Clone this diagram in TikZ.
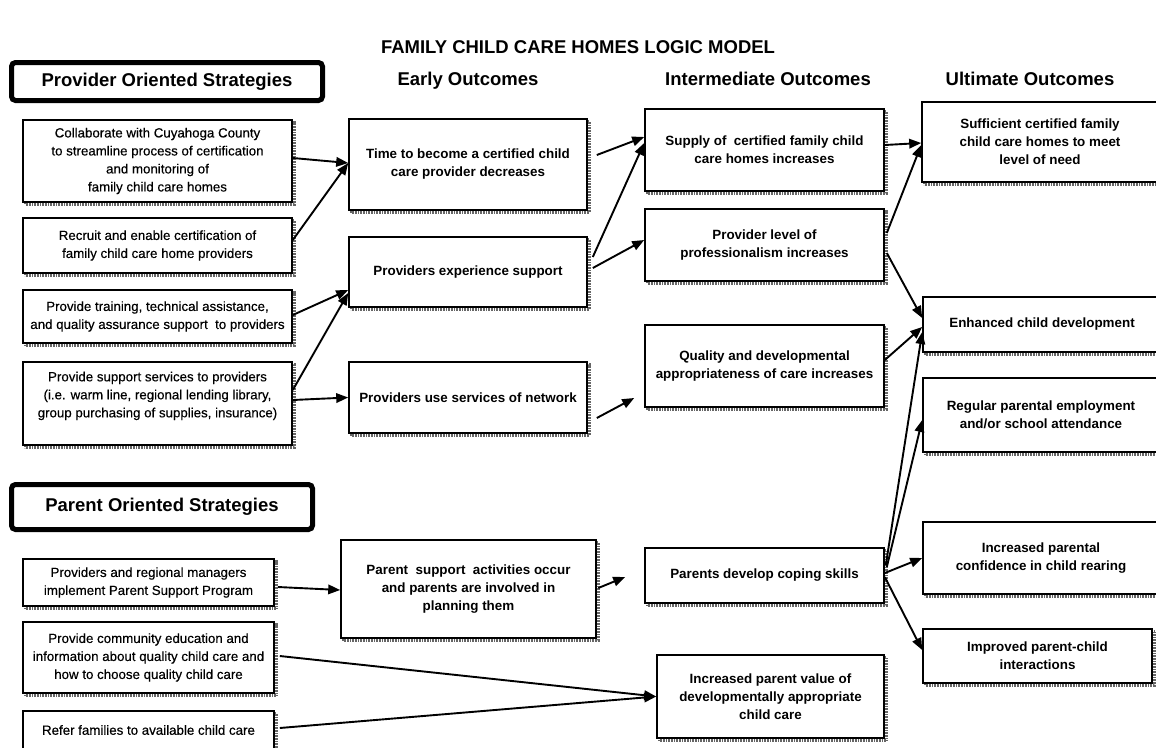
\documentclass[tikz,border=0pt]{standalone}
\usepackage{fontspec}
\setmainfont{Liberation Sans}
\newfontfamily\medfont[FakeBold=0.35]{Liberation Sans}
\usetikzlibrary{arrows.meta,shadows}
\tikzset{
  box/.style={draw, line width=1.6pt, fill=white, align=center, inner sep=2pt,
    general shadow={shadow xshift=2.6pt, shadow yshift=-2.6pt, draw=black!60,
      line width=2.4pt, dash pattern=on 0.8pt off 0.8pt}},
  strat/.style={box, font=\medfont\fontsize{13.3}{18}\selectfont},
  outc/.style={box, font=\bfseries\fontsize{13.4}{18}\selectfont},
  frame/.style={draw, line width=5pt, rounded corners=4pt, fill=white,
    font=\bfseries\fontsize{18.5}{22}\selectfont},
  head/.style={font=\bfseries\fontsize{18.5}{22}\selectfont, anchor=base},
  arr/.style={line width=1.9pt, -{Triangle[length=12pt,width=9.5pt]}},
}
\begin{document}
\begin{tikzpicture}[x=1pt,y=-1pt]
\useasboundingbox (0,0) rectangle (1156,747);
\clip (0,0) rectangle (1156,747);
\fill[white] (0,0) rectangle (1156,747);

% headings
\node[head] (title) at (578,53) {FAMILY CHILD CARE HOMES LOGIC MODEL};
\node[frame, minimum width=311pt, minimum height=38pt] (prov) at (167,81.5) {Provider Oriented Strategies};
\node[head] (early) at (468,85) {Early Outcomes};
\node[head] (inter) at (768,85) {Intermediate Outcomes};
\node[head] (ulti) at (1030,85) {Ultimate Outcomes};
\node[frame, minimum width=301pt, minimum height=45pt] (par) at (162,507) {Parent Oriented Strategies};

% strategies
\node[strat, minimum width=269pt, minimum height=82pt] (S1) at (157.5,161)
  {Collaborate with Cuyahoga County\\to streamline process of certification\\and monitoring of\\family child care homes};
\node[strat, minimum width=269pt, minimum height=55pt] (S2) at (157.5,245.5)
  {Recruit and enable certification of\\family child care home providers};
\node[strat, minimum width=269pt, minimum height=53pt] (S3) at (157.5,316.5)
  {Provide training, technical assistance,\\and quality assurance support\ \ to providers};
\node[strat, minimum width=269pt, minimum height=83pt] (S4) at (157.5,403.5)
  {Provide support services to providers\\(i.e. warm line, regional lending library,\\group purchasing of supplies, insurance)\\\mbox{}};
\node[strat, minimum width=251pt, minimum height=47pt] (P1) at (148.5,582.5)
  {Providers and regional managers\\implement Parent Support Program};
\node[strat, minimum width=251pt, minimum height=71pt] (P2) at (148.5,657.5)
  {Provide community education and\\information about quality child care and\\how to choose quality child care};
\node[strat, minimum width=251pt, minimum height=38pt] (P3) at (148.5,730)
  {Refer families to available child care};

% early outcomes
\node[outc, minimum width=238pt, minimum height=91pt] (E1) at (468,164.5)
  {Time to become a certified child\\care provider decreases};
\node[outc, minimum width=238pt, minimum height=70pt] (E2) at (468,272)
  {Providers experience support};
\node[outc, minimum width=238pt, minimum height=71pt] (E3) at (468,397.5)
  {Providers use services of network};
\node[outc, minimum width=255pt, minimum height=98pt] (E4) at (468.5,589)
  {Parent\ \ support\ \ activities occur\\and parents are involved in\\planning them};

% intermediate outcomes
\node[outc, minimum width=239pt, minimum height=82pt] (I1) at (764.5,150)
  {Supply of\ \ certified family child\\care homes increases};
\node[outc, minimum width=239pt, minimum height=72pt] (I2) at (764.5,245)
  {Provider level of\\professionalism increases};
\node[outc, minimum width=239pt, minimum height=82pt] (I3) at (764.5,366)
  {Quality and developmental\\appropriateness of care increases};
\node[outc, minimum width=239pt, minimum height=55pt] (I4) at (764.5,575.5)
  {Parents develop coping skills};
\node[outc, minimum width=227pt, minimum height=83pt] (I5) at (770.5,696.5)
  {Increased parent value of\\developmentally appropriate\\child care};

% ultimate outcomes
\node[outc, minimum width=236pt, minimum height=80pt] (U1) at (1040,142)
  {Sufficient certified family\\child care homes to meet\\level of need};
\node[outc, minimum width=238pt, minimum height=55pt] (U2) at (1042,324.5)
  {Enhanced child development};
\node[outc, minimum width=236pt, minimum height=74pt] (U3) at (1041,415)
  {Regular parental employment\\and/or school attendance};
\node[outc, minimum width=236pt, minimum height=72pt] (U4) at (1041,558)
  {Increased parental\\confidence in child rearing};
\node[outc, minimum width=229pt, minimum height=54pt] (U5) at (1037.5,656)
  {Improved parent-child\\interactions};

% connectors
\draw[arr] ([yshift=3pt]S1.east) -- ([yshift=1.5pt]E1.west);
\draw[arr] ([yshift=5.5pt]S2.east) -- ([yshift=1.5pt]E1.west);
\draw[arr] ([yshift=1.5pt]S3.east) -- ([yshift=-18pt]E2.west);
\draw[arr] ([yshift=13.5pt]S4.east) -- ([yshift=-21pt]E2.west);
\draw[arr] ([yshift=3.5pt]S4.east) -- (E3.west);
\draw[arr] ([xshift=9pt,yshift=9.5pt]E1.east) -- ([yshift=13pt]I1.west);
\draw[arr] ([xshift=5pt,yshift=15pt]E2.east) -- ([yshift=7pt]I1.west);
\draw[arr] ([xshift=5pt,yshift=4pt]E2.east) -- ([yshift=5pt]I2.west);
\draw[arr] ([xshift=9pt,yshift=-20.5pt]E3.east) -- ([xshift=-10pt,yshift=-32pt]I3.west);
\draw[arr] ([xshift=1.5pt,yshift=1pt]E4.east) -- ([xshift=-19pt,yshift=-1.5pt]I4.west);
\draw[arr] ([xshift=3pt,yshift=-4.5pt]P1.east) -- ([yshift=-1pt]E4.west);
\draw[arr] ([xshift=5pt,yshift=1.5pt]P2.east) -- (I5.west);
\draw[arr] ([xshift=5pt,yshift=2pt]P3.east) -- (I5.west);
\draw[arr] ([yshift=5pt]I1.east) -- ([yshift=-1pt]U1.west);
\draw[arr] ([xshift=2pt,yshift=12pt]I2.east) -- ([yshift=-3pt]U1.west);
\draw[arr] ([xshift=2pt,yshift=-8pt]I2.east) -- ([yshift=6.5pt]U2.west);
\draw[arr] ([yshift=6pt]I3.east) -- ([yshift=-2.5pt]U2.west);
\draw[arr] ([xshift=1pt,yshift=10.5pt]I4.east) -- ([yshift=-7.5pt]U2.west);
\draw[arr] ([xshift=2pt,yshift=8.5pt]I4.east) -- ([yshift=-5pt]U3.west);
\draw[arr] ([yshift=2.5pt]I4.east) -- (U4.west);
\draw[arr] ([yshift=-1.5pt]I4.east) -- ([yshift=6pt]U5.west);
\end{tikzpicture}
\end{document}
